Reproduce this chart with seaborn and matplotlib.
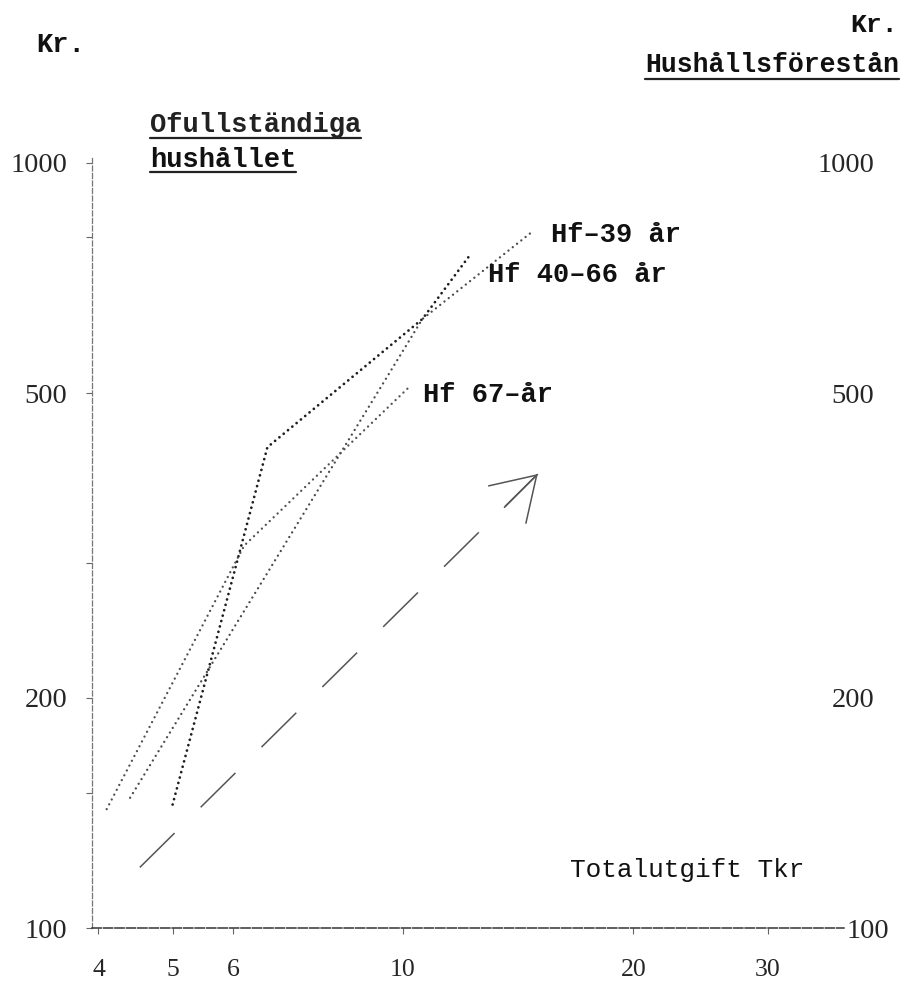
import pandas as pd
import seaborn as sns
import matplotlib.pyplot as plt
import matplotlib.transforms as mtransforms
from matplotlib.lines import Line2D
from matplotlib.ticker import FixedLocator, NullFormatter

# Ofullständiga hushållet: utgift (Kr.) mot totalutgift (Tkr), log-log
hf39_x = [4.4, 10.6, 14.8]
hf39_y = [148, 625, 815]
hf40_x = [5.0, 6.65, 10.6, 12.2]
hf40_y = [145, 425, 625, 755]
hf67_x = [4.1, 6.2, 10.2]
hf67_y = [143, 316, 510]
groups = ["Hf\u201339 år", "Hf 40\u201366 år", "Hf 67\u2013år"]

# referenslinje (elasticitet 1) med pil
ref_x = [4.53, 15.0]
ref_y = [120, 392]

x_ticks = [4, 5, 6, 10, 20, 30]
y_ticks = [100, 200, 500, 1000]
y_minor = [150, 300, 800]

sns.set_style("white")
plt.rcParams["font.family"] = ["Liberation Mono", "DejaVu Sans Mono"]

W, H = 902, 981
fig = plt.figure(figsize=(W / 100, H / 100), dpi=100)
ax = fig.add_axes([92 / W, 53 / H, 752 / W, 772 / H])

df = pd.DataFrame({
    "x": hf39_x + hf40_x + hf67_x,
    "y": hf39_y + hf40_y + hf67_y,
    "grupp": [groups[0]] * len(hf39_x) + [groups[1]] * len(hf40_x) + [groups[2]] * len(hf67_x),
})

sns.lineplot(data=df, x="x", y="y", hue="grupp", style="grupp", size="grupp",
             palette={groups[0]: "#4a4a4a", groups[1]: "#1e1e1e", groups[2]: "#505050"},
             dashes={groups[0]: (0.01, 2.3), groups[1]: (0.01, 2.0), groups[2]: (0.01, 2.3)},
             sizes={groups[0]: 1.7, groups[1]: 2.0, groups[2]: 1.7},
             estimator=None, sort=False, legend=False, ax=ax)
for ln in ax.lines:
    ln.set_dash_capstyle("round")

sns.lineplot(x=ref_x, y=ref_y, ax=ax, color="#555555", linewidth=1.1,
             linestyle=(0, (32, 24)), estimator=None, sort=False)
ax.annotate("", xy=(ref_x[-1], ref_y[-1]), xytext=(-24, -24), textcoords="offset points",
            arrowprops=dict(arrowstyle="->,head_length=1.5,head_width=0.95", mutation_scale=20,
                            color="#555555", lw=1.1, shrinkA=0, shrinkB=0))

ax.set_xscale("log")
ax.set_yscale("log")
ax.set_xlim(3.923, 37.7)
ax.set_ylim(100, 1021)
ax.set_xlabel("")
ax.set_ylabel("")

ax.xaxis.set_major_locator(FixedLocator(x_ticks))
ax.xaxis.set_minor_locator(FixedLocator([]))
ax.set_xticklabels([str(v) for v in x_ticks], family="Liberation Serif", fontsize=18.5)
ax.yaxis.set_major_locator(FixedLocator(y_ticks))
ax.yaxis.set_minor_locator(FixedLocator(y_minor))
ax.yaxis.set_minor_formatter(NullFormatter())
ax.set_yticklabels([str(v) for v in y_ticks], family="Liberation Serif", fontsize=20.5)
ax.tick_params(axis="both", which="both", direction="out", length=4, width=0.8,
               color="#666666", left=True, bottom=True)
ax.tick_params(axis="y", which="major", pad=14)
ax.tick_params(axis="x", which="major", pad=18)

for s in ["top", "right"]:
    ax.spines[s].set_visible(False)
ax.spines["left"].set_color("#777777")
ax.spines["left"].set_linewidth(0.9)
ax.spines["left"].set_linestyle((0, (4, 2)))
ax.spines["bottom"].set_color("#333333")
ax.spines["bottom"].set_linewidth(1.1)
ax.spines["bottom"].set_linestyle((0, (6, 1.5)))

# högra skalan (nästa diagram)
ax2 = ax.twinx()
ax2.set_yscale("log")
ax2.set_ylim(ax.get_ylim())
ax2.yaxis.set_major_locator(FixedLocator(y_ticks))
ax2.yaxis.set_minor_locator(FixedLocator([]))
ax2.set_yticklabels([str(v) for v in y_ticks], family="Liberation Serif", fontsize=20.5, ha="right")
ax2.tick_params(axis="y", length=0, pad=22)
for s in ax2.spines.values():
    s.set_visible(False)
lbl = ax2.get_yticklabels()[0]
lbl.set_transform(lbl.get_transform() + mtransforms.ScaledTranslation(0.15, 0, fig.dpi_scale_trans))

# etiketter vid linjernas ändar
ends = [(hf39_x[-1], hf39_y[-1], (13, -8)), (hf40_x[-1], hf40_y[-1], (13.7, -18.7)),
        (hf67_x[-1], hf67_y[-1], (10, -11))]
for g, (ex, ey, off) in zip(groups, ends):
    ax.annotate(g, xy=(ex, ey), xytext=off, textcoords="offset points",
                fontsize=19.5, fontweight="bold", va="baseline", ha="left", color="#111111")

def ftext(px, py, s, **kw):
    return fig.text(px / W, 1 - py / H, s, va="baseline", ha="left", **kw)

ftext(36, 52, "Kr.", fontsize=19.5, fontweight="bold", color="#111111")
ftext(850, 32, "Kr.", fontsize=19, fontweight="bold", color="#111111")
t1 = ftext(150, 132, "Ofullständiga", fontsize=19.5, fontweight="bold", color="#222222")
t2 = ftext(150, 167, "hushållet", fontsize=19.5, fontweight="bold", color="#111111")
t3 = ftext(645, 72, "Hushållsförestån", fontsize=19.1, fontweight="bold", color="#111111")
ftext(570, 877, "Totalutgift Tkr", fontsize=18.8, color="#111111")

fig.canvas.draw()
renderer = fig.canvas.get_renderer()
for t, py in [(t1, 138), (t2, 172), (t3, 79)]:
    bb = t.get_window_extent(renderer)
    fig.add_artist(Line2D([bb.x0 / W, min(bb.x1, W - 1) / W], [1 - py / H] * 2,
                          transform=fig.transFigure, color="#222222", linewidth=1.6))

fig.savefig("out.png", dpi=100)
